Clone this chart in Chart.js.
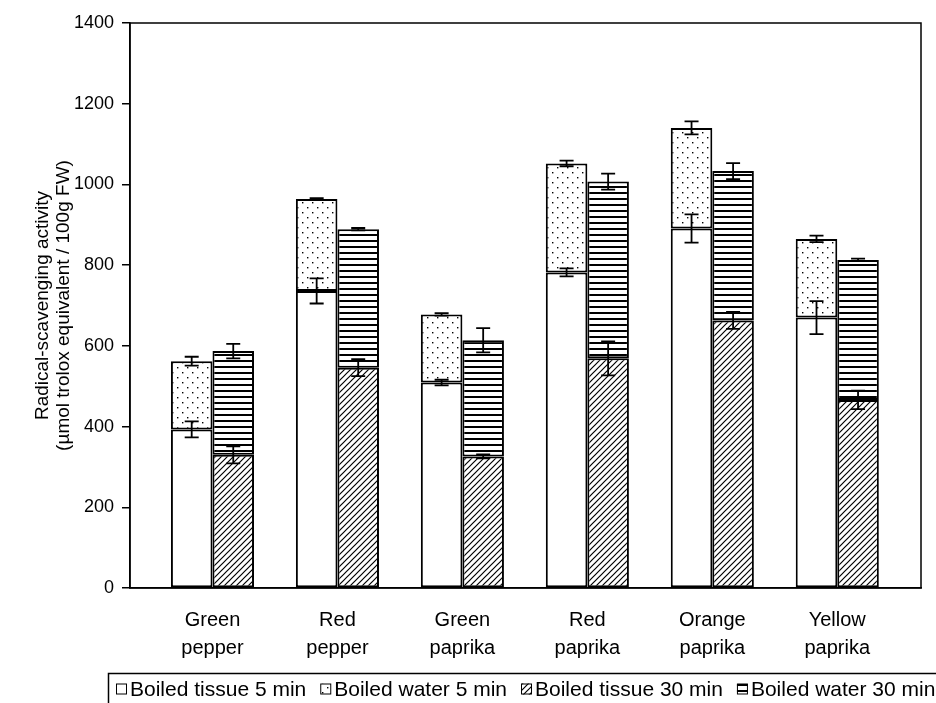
<!DOCTYPE html>
<html><head><meta charset="utf-8">
<script src="https://cdn.jsdelivr.net/npm/chart.js@4.4.1/dist/chart.umd.min.js"></script>
<style>html,body{margin:0;padding:0;background:#fff}#wrap{width:936px;height:703px;position:relative}</style>
</head><body><div id="wrap"><canvas id="c"></canvas></div>
<script>
// ---- data ----
const categories = [["Green","pepper"],["Red","pepper"],["Green","paprika"],["Red","paprika"],["Orange","paprika"],["Yellow","paprika"]];
const seriesNames = ["Boiled tissue 5 min","Boiled water 5 min","Boiled tissue 30 min","Boiled water 30 min"];
const tissue5  = [393, 736, 509, 782, 891, 670];
const water5   = [169, 228, 169, 270, 249, 195];
const tissue30 = [330, 546, 326, 569, 663, 466];
const water30  = [257, 343, 288, 438, 370, 347];
const errTissue5  = [20, 31, 7, 10, 35, 41];
const errWater5   = [11, 2, 3, 7, 16, 8];
const errTissue30 = [21, 21, 5, 42, 21, 23];
const errWater30  = [18, 3, 30, 20, 20, 3];
const yTicks = [0, 200, 400, 600, 800, 1000, 1200, 1400];
const yTitle = ["Radical-scavenging activity", "(\u00b5mol trolox equivalent / 100g FW)"];

const FONT = "'Liberation Sans', Arial, Helvetica, sans-serif";

function makePattern(kind){
  const c = document.createElement('canvas');
  let w = 10, h = 10;
  if (kind === 'hlines'){ w = 6; h = 6; }
  if (kind === 'diag'){ w = 6; h = 6; }
  c.width = w; c.height = h;
  const g = c.getContext('2d');
  g.fillStyle = '#fff'; g.fillRect(0,0,w,h);
  g.fillStyle = '#000'; g.strokeStyle = '#000';
  if (kind === 'dots'){
    g.fillRect(2,2,1.4,1.4); g.fillRect(7,7,1.4,1.4);
  } else if (kind === 'hlines'){
    g.fillRect(0,0,w,2);
  } else if (kind === 'diag'){
    g.lineWidth = 1.2;
    g.beginPath();
    g.moveTo(0,h); g.lineTo(w,0);
    g.moveTo(-1,1); g.lineTo(1,-1);
    g.moveTo(w-1,h+1); g.lineTo(w+1,h-1);
    g.stroke();
  }
  return g.createPattern(c,'repeat');
}
const fills = ['#ffffff', makePattern('dots'), makePattern('diag'), makePattern('hlines')];
const values = [tissue5, water5, tissue30, water30];
const errs = [errTissue5, errWater5, errTissue30, errWater30];
const stacks = ['a','a','b','b'];

function cumulative(si, j){
  if (si === 0) return tissue5[j];
  if (si === 1) return tissue5[j] + water5[j];
  if (si === 2) return tissue30[j];
  return tissue30[j] + water30[j];
}

const datasets = values.map((arr, si) => ({
  label: seriesNames[si],
  data: arr.map((v, j) => ({x: j, y: v})),
  stack: stacks[si],
  backgroundColor: fills[si],
  borderColor: '#000',
  borderWidth: 2,
  borderSkipped: false,
  barPercentage: 1.0,
  categoryPercentage: 0.665
}));

const errorBars = {
  id: 'errorBars',
  afterDatasetsDraw(chart){
    const ctx = chart.ctx, ys = chart.scales.y;
    ctx.save();
    ctx.strokeStyle = '#000'; ctx.lineWidth = 1.8;
    chart.data.datasets.forEach((ds, si) => {
      const meta = chart.getDatasetMeta(si);
      meta.data.forEach((bar, j) => {
        const top = cumulative(si, j), e = errs[si][j];
        const x = bar.x;
        const y1 = ys.getPixelForValue(top + e), y2 = ys.getPixelForValue(top - e);
        ctx.beginPath();
        ctx.moveTo(x, y1); ctx.lineTo(x, y2);
        ctx.moveTo(x - 7, y1); ctx.lineTo(x + 7, y1);
        ctx.moveTo(x - 7, y2); ctx.lineTo(x + 7, y2);
        ctx.stroke();
      });
    });
    ctx.restore();
  }
};

const frame = {
  id: 'frame',
  afterDraw(chart){
    const {ctx, chartArea: a} = chart;
    ctx.save();
    ctx.strokeStyle = '#000'; ctx.lineWidth = 1.5;
    ctx.strokeRect(a.left, a.top, a.right - a.left, a.bottom - a.top);
    // legend
    ctx.lineWidth = 1.5;
    ctx.strokeRect(108.5, 673.5, 900, 60);
    ctx.font = "21px " + FONT;
    ctx.textBaseline = 'middle';
    ctx.fillStyle = '#000';
    let x = 116;
    const cy = 689;
    seriesNames.forEach((name, si) => {
      ctx.fillStyle = fills[si];
      ctx.fillRect(x, cy - 5.5, 11, 11);
      ctx.lineWidth = 1;
      ctx.strokeRect(x + 0.5, cy - 5, 10, 10);
      ctx.fillStyle = '#000';
      const tx = x + 14;
      ctx.fillText(name, tx, cy + 1);
      x = tx + ctx.measureText(name).width + 14;
    });
    ctx.restore();
  }
};

new Chart(document.getElementById('c'), {
  type: 'bar',
  data: { datasets },
  options: {
    responsive: true,
    maintainAspectRatio: false,
    animation: false,
    layout: { padding: { left: 0, right: 15, top: 23, bottom: 0 } },
    plugins: { legend: { display: false }, tooltip: { enabled: false } },
    scales: {
      x: {
        type: 'linear',
        offset: false,
        min: -0.66, max: 5.67,
        stacked: true,
        afterBuildTicks(s){ s.ticks = categories.map((c, i) => ({value: i})); },
        afterFit(s){ s.height = 115; },
        ticks: {
          autoSkip: false, maxRotation: 0,
          padding: 10,
          color: '#000',
          font: { family: FONT, size: 20, lineHeight: 1.4 },
          callback: (v) => categories[v]
        },
        grid: { display: false },
        border: { display: true, color: '#000', width: 1.5 }
      },
      y: {
        stacked: true,
        min: 0, max: 1400,
        afterBuildTicks(s){ s.ticks = yTicks.map(v => ({value: v})); },
        afterFit(s){ s.width = 130; },
        ticks: { color: '#000', padding: 8, font: { family: FONT, size: 18 }, callback: (v) => String(v) },
        grid: { drawOnChartArea: false, drawTicks: true, tickLength: 8, color: '#000', lineWidth: 1.5 },
        border: { display: true, color: '#000', width: 1.5 },
        title: {
          display: true, text: yTitle, color: '#000',
          font: { family: FONT, size: 19, lineHeight: 1.12 },
          padding: { top: 32, bottom: 0 }
        }
      }
    }
  },
  plugins: [errorBars, frame]
});
</script></body></html>
